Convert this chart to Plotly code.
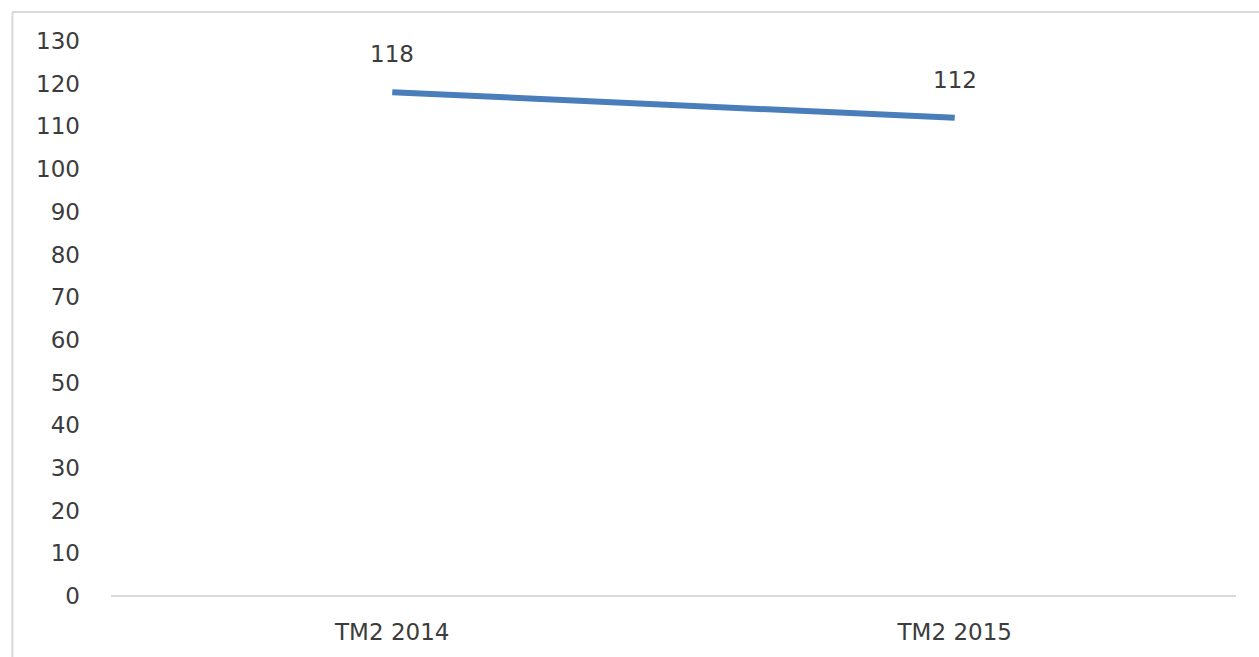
import plotly.graph_objects as go

categories = ["TM2 2014", "TM2 2015"]
values = [118, 112]
y_ticks = list(range(0, 131, 10))

FONT = "DejaVu Sans"
TXT = "#3c3c3c"

fig = go.Figure()
fig.add_trace(go.Scatter(
    x=categories, y=values, mode="lines",
    line=dict(color="#4a7ebb", width=6),
    hoverinfo="skip", showlegend=False,
))
for c, v in zip(categories, values):
    fig.add_annotation(x=c, y=v, text=str(v), showarrow=False, yshift=38,
                       font=dict(size=23, color=TXT, family=FONT))

# chart-area frame: top and left edges (right/bottom fall outside the image)
fig.add_shape(type="line", xref="paper", yref="paper",
              x0=-0.0876, x1=1.03, y0=1.0523, y1=1.0523,
              line=dict(color="#d9d9d9", width=2), layer="below")
fig.add_shape(type="line", xref="paper", yref="paper",
              x0=-0.0876, x1=-0.0876, y0=-0.2, y1=1.0523,
              line=dict(color="#d9d9d9", width=2), layer="below")

fig.update_layout(
    width=1259, height=657,
    margin=dict(l=111, r=23, t=41, b=61),
    paper_bgcolor="white", plot_bgcolor="white",
    font=dict(family=FONT, size=23, color=TXT),
    xaxis=dict(type="category", range=[-0.5, 1.5], showgrid=False, zeroline=False,
               showline=False, ticks="", ticklabelstandoff=20,
               tickfont=dict(size=23, color=TXT)),
    yaxis=dict(range=[0, 130], tickvals=y_ticks, showgrid=False, zeroline=True,
               zerolinecolor="#d9d9d9", zerolinewidth=2, showline=False, ticks="",
               ticklabelstandoff=30, tickfont=dict(size=23, color=TXT)),
)
fig.write_html("out.html", config={"displayModeBar": False},
               post_script="document.body.style.margin='0';document.body.style.overflow='hidden';")
